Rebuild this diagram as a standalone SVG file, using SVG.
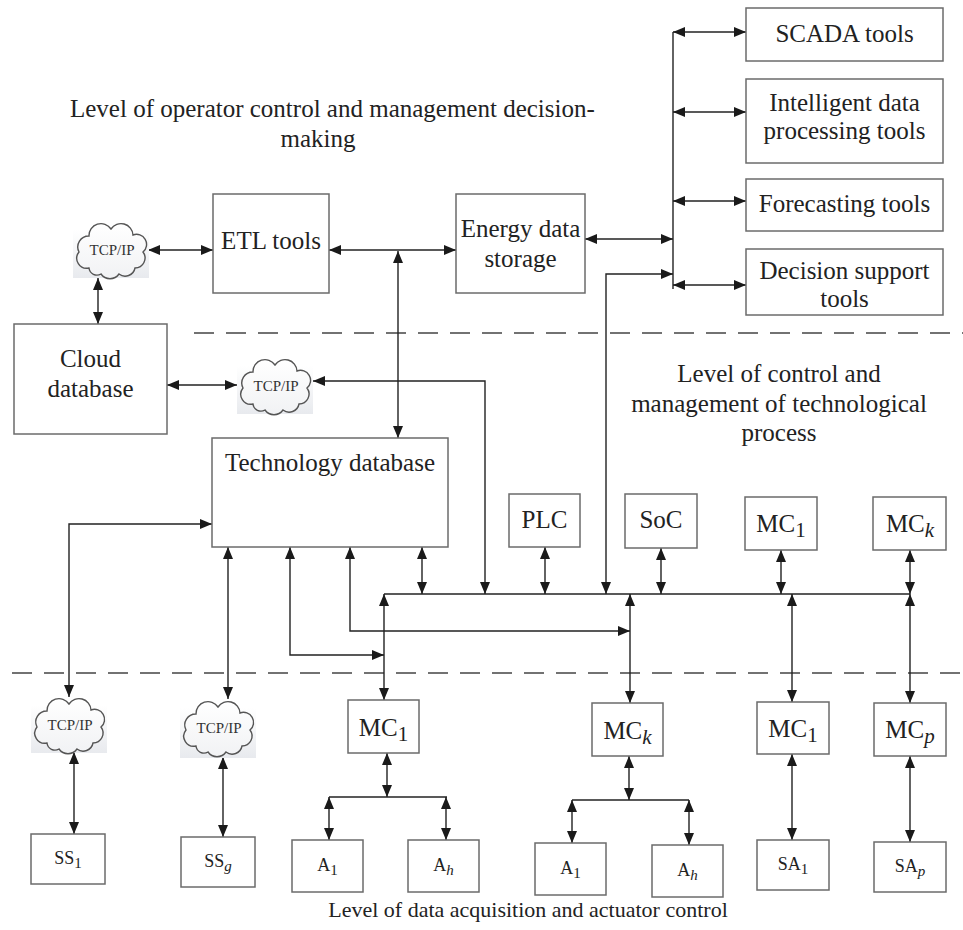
<svg xmlns="http://www.w3.org/2000/svg" width="963" height="930" viewBox="0 0 963 930">
<defs>
<style>
.box{fill:#fff;stroke:#6b6b6b;stroke-width:1.5}
.ln{fill:none;stroke:#222;stroke-width:1.4}
.bi{marker-start:url(#ah);marker-end:url(#ah)}
.dash{fill:none;stroke:#444;stroke-width:1.5;stroke-dasharray:20 12}
.t{font-family:"Liberation Serif","Times New Roman",serif;font-size:25px;fill:#222;text-anchor:middle}
.ts{font-family:"Liberation Serif","Times New Roman",serif;font-size:18px;fill:#222;text-anchor:middle}
.tcp{font-family:"Liberation Serif","Times New Roman",serif;font-size:15px;fill:#333;text-anchor:middle}
.cloud{fill:url(#cfill);stroke:#555;stroke-width:1.4}
.cbg{fill:url(#cbgfill)}
</style>
<linearGradient id="cbgfill" x1="0" y1="0" x2="0" y2="1">
<stop offset="0" stop-color="#ffffff"/>
<stop offset="1" stop-color="#e8eaee"/>
</linearGradient>
<linearGradient id="cfill" x1="0" y1="0" x2="0" y2="1">
<stop offset="0" stop-color="#ffffff"/>
<stop offset="1" stop-color="#f1f2f4"/>
</linearGradient>
<marker id="ah" viewBox="0 0 12 10" refX="12" refY="5" markerWidth="12" markerHeight="10" markerUnits="userSpaceOnUse" orient="auto-start-reverse">
<path d="M0,0 L12,5 L0,10 z" fill="#1a1a1a"/>
</marker>
<path id="cloudshape" d="M16,46 A10,10 0 0 1 6,30 A11,11 0 0 1 16,14 A12,12 0 0 1 38,7 A12,12 0 0 1 60,13 A10,10 0 0 1 70,30 A10,10 0 0 1 62,46 A10,10 0 0 1 46,52 A11,11 0 0 1 28,52 A8,8 0 0 1 16,46 Z"/>
</defs>
<rect x="0" y="0" width="963" height="930" fill="#fff"/>

<g id="labels">
<text class="t" x="70" y="117" style="text-anchor:start">Level of operator control and management decision-</text>
<text class="t" x="318" y="147">making</text>
<text class="t" x="779" y="382">Level of control and</text>
<text class="t" x="779" y="412">management of technological</text>
<text class="t" x="779" y="441">process</text>
<text class="t" x="528" y="917" style="font-size:22px">Level of data acquisition and actuator control</text>
</g>

<g id="dividers">
<path class="dash" d="M194,333 H963"/>
<path class="dash" d="M12,673 H963"/>
</g>

<g id="connectors">
<path class="ln bi" d="M148,250 H213"/>
<path class="ln bi" d="M329,250 H456"/>
<path class="ln bi" d="M398,251 V438"/>
<path class="ln bi" d="M98,278 V324"/>
<path class="ln bi" d="M167,385 H237"/>
<path class="ln bi" d="M313,381 H485 V594"/>
<path class="ln bi" d="M585,239 H673"/>
<path class="ln bi" d="M606,594 V274 H673"/>
<path class="ln" d="M673,32 V289"/>
<path class="ln bi" d="M673,32 H746"/>
<path class="ln bi" d="M673,112 H746"/>
<path class="ln bi" d="M673,201 H746"/>
<path class="ln bi" d="M673,285 H746"/>
<path class="ln bi" d="M212,524 H69 V697"/>
<path class="ln bi" d="M74,752 V834"/>
<path class="ln bi" d="M228,547 V699"/>
<path class="ln bi" d="M223,757 V837"/>
<path class="ln bi" d="M290,547 V655 H384"/>
<path class="ln bi" d="M350,547 V631 H630"/>
<path class="ln bi" d="M422,547 V594"/>
<path class="ln" d="M384,594 H910"/>
<path class="ln bi" d="M384,594 V700"/>
<path class="ln bi" d="M630,594 V703"/>
<path class="ln bi" d="M545,547 V594"/>
<path class="ln bi" d="M661,548 V594"/>
<path class="ln bi" d="M781,550 V594"/>
<path class="ln bi" d="M910,550 V594"/>
<path class="ln bi" d="M792,594 V702"/>
<path class="ln bi" d="M910,594 V703"/>
<path class="ln bi" d="M387,753 V797"/>
<path class="ln" d="M329,797 H447"/>
<path class="ln bi" d="M329,797 V840"/>
<path class="ln bi" d="M446,797 V840"/>
<path class="ln bi" d="M629,756 V800"/>
<path class="ln" d="M572,800 H689"/>
<path class="ln bi" d="M572,800 V843"/>
<path class="ln bi" d="M689,800 V845"/>
<path class="ln bi" d="M792,754 V840"/>
<path class="ln bi" d="M910,756 V842"/>
</g>

<g id="cloud-tcp-1" transform="translate(73,222)"><rect class="cbg" x="0" y="8" width="76" height="48"/><use href="#cloudshape" class="cloud"/><text class="tcp" x="39" y="33">TCP/IP</text></g>
<g id="cloud-tcp-2" transform="translate(237,358)"><rect class="cbg" x="0" y="8" width="76" height="48"/><use href="#cloudshape" class="cloud"/><text class="tcp" x="39" y="33">TCP/IP</text></g>
<g id="cloud-tcp-3" transform="translate(31,697)"><rect class="cbg" x="0" y="8" width="76" height="48"/><use href="#cloudshape" class="cloud"/><text class="tcp" x="39" y="33">TCP/IP</text></g>
<g id="cloud-tcp-4" transform="translate(180,700)"><rect class="cbg" x="0" y="8" width="76" height="50"/><use href="#cloudshape" class="cloud"/><text class="tcp" x="39" y="33">TCP/IP</text></g>

<g id="etl"><rect class="box" x="213" y="194" width="116" height="99"/><text class="t" x="271" y="249">ETL tools</text></g>
<g id="energy"><rect class="box" x="456" y="194" width="129" height="99"/><text class="t" x="520.5" y="237">Energy data</text><text class="t" x="520.5" y="267">storage</text></g>
<g id="scada"><rect class="box" x="746" y="8" width="197" height="53"/><text class="t" x="844.5" y="42">SCADA tools</text></g>
<g id="intelligent"><rect class="box" x="746" y="79" width="197" height="84"/><text class="t" x="844.5" y="111">Intelligent data</text><text class="t" x="844.5" y="139">processing tools</text></g>
<g id="forecasting"><rect class="box" x="746" y="179" width="197" height="52"/><text class="t" x="844.5" y="212">Forecasting tools</text></g>
<g id="decision"><rect class="box" x="746" y="249" width="197" height="66"/><text class="t" x="844.5" y="279">Decision support</text><text class="t" x="844.5" y="307">tools</text></g>
<g id="cloud-db"><rect class="box" x="14" y="324" width="153" height="110"/><text class="t" x="90.5" y="367">Cloud</text><text class="t" x="90.5" y="397">database</text></g>
<g id="tech-db"><rect class="box" x="212" y="438" width="236" height="109"/><text class="t" x="330" y="471">Technology database</text></g>
<g id="plc"><rect class="box" x="509" y="494" width="71" height="53"/><text class="t" x="544.5" y="528">PLC</text></g>
<g id="soc"><rect class="box" x="625" y="494" width="72" height="54"/><text class="t" x="661" y="528">SoC</text></g>
<g id="mc1-upper"><rect class="box" x="745" y="497" width="72" height="53"/><text class="t" x="781" y="532">MC<tspan font-size="21" dy="5">1</tspan></text></g>
<g id="mck-upper"><rect class="box" x="873" y="497" width="73" height="53"/><text class="t" x="910" y="532">MC<tspan font-size="21" dy="5" font-style="italic">k</tspan></text></g>
<g id="mc1-lower-a"><rect class="box" x="348" y="700" width="71" height="53"/><text class="t" x="383.5" y="736">MC<tspan font-size="21" dy="5">1</tspan></text></g>
<g id="mck-lower"><rect class="box" x="592" y="703" width="71" height="53"/><text class="t" x="627.5" y="739">MC<tspan font-size="21" dy="5" font-style="italic">k</tspan></text></g>
<g id="mc1-lower-b"><rect class="box" x="757" y="702" width="72" height="52"/><text class="t" x="793" y="737">MC<tspan font-size="21" dy="5">1</tspan></text></g>
<g id="mcp-lower"><rect class="box" x="874" y="703" width="72" height="53"/><text class="t" x="910" y="738">MC<tspan font-size="21" dy="5" font-style="italic">p</tspan></text></g>
<g id="ss1"><rect class="box" x="31" y="834" width="74" height="50"/><text class="ts" x="68" y="864">SS<tspan font-size="15" dy="4">1</tspan></text></g>
<g id="ssg"><rect class="box" x="181" y="837" width="74" height="50"/><text class="ts" x="218" y="867">SS<tspan font-size="15" dy="4" font-style="italic">g</tspan></text></g>
<g id="a1-a"><rect class="box" x="292" y="840" width="71" height="52"/><text class="ts" x="327.5" y="871">A<tspan font-size="15" dy="4">1</tspan></text></g>
<g id="ah-a"><rect class="box" x="408" y="840" width="71" height="52"/><text class="ts" x="443.5" y="871">A<tspan font-size="15" dy="4" font-style="italic">h</tspan></text></g>
<g id="a1-b"><rect class="box" x="535" y="843" width="71" height="52"/><text class="ts" x="570.5" y="874">A<tspan font-size="15" dy="4">1</tspan></text></g>
<g id="ah-b"><rect class="box" x="652" y="845" width="71" height="52"/><text class="ts" x="687.5" y="876">A<tspan font-size="15" dy="4" font-style="italic">h</tspan></text></g>
<g id="sa1"><rect class="box" x="757" y="840" width="72" height="50"/><text class="ts" x="793" y="870">SA<tspan font-size="15" dy="4">1</tspan></text></g>
<g id="sap"><rect class="box" x="874" y="842" width="72" height="50"/><text class="ts" x="910" y="872">SA<tspan font-size="15" dy="4" font-style="italic">p</tspan></text></g>
</svg>
